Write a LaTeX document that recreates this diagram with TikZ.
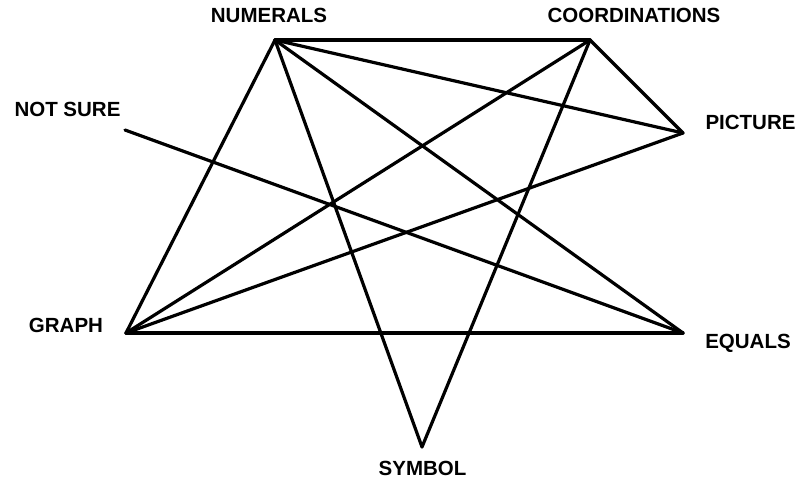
\documentclass[tikz,border=0pt]{standalone}
\usepackage{fontspec}
\setmainfont{Liberation Sans}
\usetikzlibrary{positioning}

\begin{document}
\begin{tikzpicture}[
  x=1pt, y=-1pt,
  lbl/.style={font=\fontsize{20.5}{21}\bfseries\selectfont, inner sep=0pt,
              text height=0.716em, text depth=0pt, anchor=center},
  ln/.style={draw=black, line width=3.2pt, line cap=round, line join=round},
]
\useasboundingbox (0,0) rectangle (802,481);

% meeting points of the lines
\coordinate (num) at (275,40);
\coordinate (coo) at (590,40);
\coordinate (not) at (125,130);
\coordinate (pic) at (683,133);
\coordinate (gra) at (126,333);
\coordinate (equ) at (683,333);
\coordinate (sym) at (422,447);

% labels
\node[lbl] (numL) at (269,18.5)  {NUMERALS};
\node[lbl] (cooL) at (634,18.5)  {COORDINATIONS};
\node[lbl] (notL) at (67.5,113)  {NOT SURE};
\node[lbl] (picL) at (750.5,125.5) {PICTURE};
\node[lbl] (graL) at (66,329)    {GRAPH};
\node[lbl] (equL) at (748,344.5) {EQUALS};
\node[lbl] (symL) at (422.5,471.5) {SYMBOL};

\draw[ln] (num) -- (coo);
\draw[ln] (num) -- (gra);
\draw[ln] (num) -- (pic);
\draw[ln] (num) -- (equ);
\draw[ln] (num) -- (sym);
\draw[ln] (coo) -- (gra);
\draw[ln] (coo) -- (pic);
\draw[ln] (coo) -- (sym);
\draw[ln] (not) -- (equ);
\draw[ln] (pic) -- (gra);
\draw[ln] (gra) -- (equ);
\end{tikzpicture}
\end{document}
